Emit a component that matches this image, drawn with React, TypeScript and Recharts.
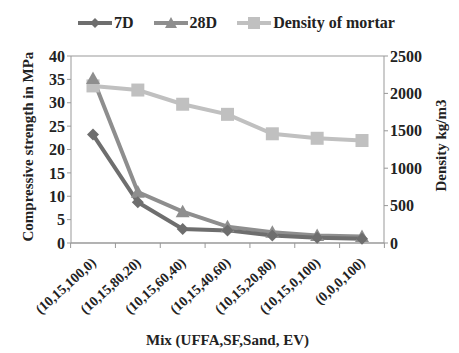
import { ComposedChart, Line, XAxis, YAxis, CartesianGrid } from "recharts";

const mixes = [
  "(10,15,100,0)",
  "(10,15,80,20)",
  "(10,15,60,40)",
  "(10,15,40,60)",
  "(10,15,20,80)",
  "(10,15,0,100)",
  "(0,0,0,100)",
];
const strength7D = [23.2, 8.7, 3.0, 2.7, 1.6, 1.1, 0.9];
const strength28D = [35.2, 10.9, 6.7, 3.5, 2.3, 1.6, 1.4];
const density = [2100, 2045, 1855, 1720, 1460, 1400, 1370];
const leftTicks = [0, 5, 10, 15, 20, 25, 30, 35, 40];
const rightTicks = [0, 500, 1000, 1500, 2000, 2500];

const data = mixes.map((m, i) => ({
  mix: m,
  d7: strength7D[i],
  d28: strength28D[i],
  density: density[i],
}));

const font = "'Liberation Serif', 'Times New Roman', serif";
const c7 = "#6e6e6e";
const c28 = "#8e8e8e";
const cDen = "#c0c0c0";

const Diamond = (props: any) => {
  const { cx, cy } = props;
  if (cx == null || cy == null) return null;
  const s = 6;
  return <path d={`M${cx},${cy - s}L${cx + s},${cy}L${cx},${cy + s}L${cx - s},${cy}Z`} fill={c7} />;
};
const Triangle = (props: any) => {
  const { cx, cy } = props;
  if (cx == null || cy == null) return null;
  const s = 7;
  return <path d={`M${cx},${cy - s}L${cx + s},${cy + s * 0.8}L${cx - s},${cy + s * 0.8}Z`} fill={c28} />;
};
const Square = (props: any) => {
  const { cx, cy } = props;
  if (cx == null || cy == null) return null;
  const s = 6.5;
  return <rect x={cx - s} y={cy - s} width={s * 2} height={s * 2} fill={cDen} />;
};

// category labels plus the boundary tick marks Excel draws between categories
const XTick = (props: any) => {
  const { x, y, payload } = props;
  const axisY = 243;
  return (
    <g>
      <line x1={x - 22.4} y1={axisY} x2={x - 22.4} y2={axisY + 5} stroke="#999" />
      {payload.index === mixes.length - 1 && (
        <line x1={x + 22.4} y1={axisY} x2={x + 22.4} y2={axisY + 5} stroke="#999" />
      )}
      <text
        x={x + 4}
        y={y + 13}
        textAnchor="end"
        transform={`rotate(-42, ${x + 4}, ${y + 13})`}
        fontFamily={font}
        fontWeight="bold"
        fontSize={14}
        fill="#222"
      >
        {payload.value}
      </text>
    </g>
  );
};

const LegendItem = ({ color, label, shape }: { color: string; label: string; shape: string }) => (
  <div style={{ display: "flex", alignItems: "center", marginRight: 20 }}>
    <svg width={34} height={14}>
      <line x1={0} y1={7} x2={34} y2={7} stroke={color} strokeWidth={4} />
      {shape === "diamond" && <path d="M17,2L22,7L17,12L12,7Z" fill={color} />}
      {shape === "triangle" && <path d="M17,1L23,12L11,12Z" fill={color} />}
      {shape === "square" && <rect x={11} y={1} width={12} height={12} fill={color} />}
    </svg>
    <span style={{ marginLeft: 2 }}>{label}</span>
  </div>
);

export default function App() {
  return (
    <div
      style={{
        position: "absolute",
        left: 0,
        top: 0,
        width: 459,
        height: 353,
        background: "#fff",
        fontFamily: font,
      }}
    >
      <div
        style={{
          position: "absolute",
          top: 14,
          left: 78,
          display: "flex",
          fontWeight: "bold",
          fontSize: 16,
          color: "#222",
        }}
      >
        <LegendItem color={c7} label="7D" shape="diamond" />
        <LegendItem color={c28} label="28D" shape="triangle" />
        <LegendItem color={cDen} label="Density of mortar" shape="square" />
      </div>
      <ComposedChart width={459} height={353} data={data} margin={{ top: 56, right: 0, bottom: 0, left: 0 }}>
        <CartesianGrid vertical={false} stroke="#999" strokeWidth={1} />
        <XAxis
          dataKey="mix"
          height={110}
          interval={0}
          padding={{ left: 22, right: 22 }}
          tick={<XTick />}
          tickLine={false}
          axisLine={{ stroke: "#999" }}
          label={{
            value: "Mix (UFFA,SF,Sand, EV)",
            position: "insideBottom",
            offset: 8,
            fontFamily: font,
            fontWeight: "bold",
            fontSize: 15,
            fill: "#222",
          }}
        />
        <YAxis
          yAxisId="left"
          width={71}
          domain={[0, 40]}
          ticks={leftTicks}
          interval={0}
          tickSize={4}
          tick={{ fontFamily: font, fontWeight: "bold", fontSize: 16, fill: "#222" }}
          axisLine={{ stroke: "#999" }}
          tickLine={{ stroke: "#999" }}
          label={{
            value: "Compressive strength in MPa",
            angle: -90,
            position: "insideLeft",
            offset: 28,
            dy: 92,
            fontFamily: font,
            fontWeight: "bold",
            fontSize: 15,
            fill: "#222",
          }}
        />
        <YAxis
          yAxisId="right"
          orientation="right"
          width={75}
          domain={[0, 2500]}
          ticks={rightTicks}
          interval={0}
          tickSize={4}
          tick={{ fontFamily: font, fontWeight: "bold", fontSize: 16, fill: "#222" }}
          axisLine={{ stroke: "#999" }}
          tickLine={{ stroke: "#999" }}
          label={{
            value: "Density kg/m3",
            angle: -90,
            position: "insideRight",
            offset: 18,
            dy: -50,
            fontFamily: font,
            fontWeight: "bold",
            fontSize: 15,
            fill: "#222",
          }}
        />
        <Line
          yAxisId="right"
          dataKey="density"
          stroke={cDen}
          strokeWidth={4}
          dot={<Square />}
          isAnimationActive={false}
        />
        <Line
          yAxisId="left"
          dataKey="d28"
          stroke={c28}
          strokeWidth={4}
          dot={<Triangle />}
          isAnimationActive={false}
        />
        <Line
          yAxisId="left"
          dataKey="d7"
          stroke={c7}
          strokeWidth={4}
          dot={<Diamond />}
          isAnimationActive={false}
        />
      </ComposedChart>
    </div>
  );
}
